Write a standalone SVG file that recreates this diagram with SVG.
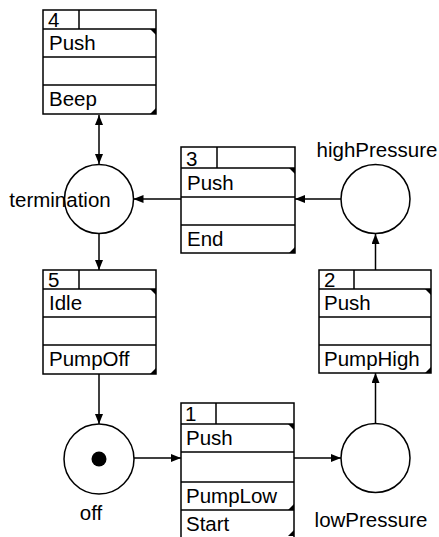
<svg xmlns="http://www.w3.org/2000/svg" width="439" height="537" viewBox="0 0 439 537">
<defs>
<style>
.box{fill:#fff;stroke:#000;stroke-width:1.5}
.ln{stroke:#000;stroke-width:1.5;fill:none}
.pl{fill:#fff;stroke:#000;stroke-width:1.5}
.t{font-family:"Liberation Sans",Arial,sans-serif;font-size:20.5px;fill:#000}
.lb{font-family:"Liberation Sans",Arial,sans-serif;font-size:20.5px;fill:#000;text-anchor:middle}
.c{fill:#000}
.e{stroke:#000;stroke-width:1.5;fill:none}
</style>
<marker id="ah" viewBox="0 0 10 8" refX="10" refY="4" markerWidth="10" markerHeight="8" markerUnits="userSpaceOnUse" orient="auto-start-reverse">
<path d="M0,0 L10,4 L0,8 Z" fill="#000"/>
</marker>
</defs>

<g id="connectors">
<line class="e" x1="99" y1="115" x2="99" y2="164" marker-start="url(#ah)" marker-end="url(#ah)"/>
<line class="e" x1="181" y1="199" x2="133.5" y2="199" marker-end="url(#ah)"/>
<line class="e" x1="341" y1="199" x2="295" y2="199" marker-end="url(#ah)"/>
<line class="e" x1="375.5" y1="270" x2="375.5" y2="234" marker-end="url(#ah)"/>
<line class="e" x1="375.5" y1="423" x2="375.5" y2="373" marker-end="url(#ah)"/>
<line class="e" x1="294" y1="458" x2="341" y2="458" marker-end="url(#ah)"/>
<line class="e" x1="134" y1="458" x2="181" y2="458" marker-end="url(#ah)"/>
<line class="e" x1="99" y1="234" x2="99" y2="270" marker-end="url(#ah)"/>
<line class="e" x1="99" y1="374" x2="99" y2="424" marker-end="url(#ah)"/>
</g>

<g id="t4">
<rect class="box" x="43" y="10" width="113" height="104"/>
<path class="ln" d="M43,29H156M43,57H156M43,85H156M79,10V29"/>
<path class="c" d="M150,29H156V35Z"/>
<path class="c" d="M156,108V114H150Z"/>
<text class="t" x="48" y="27">4</text>
<text class="t" x="49" y="50">Push</text>
<text class="t" x="49" y="106">Beep</text>
</g>

<g id="t3">
<rect class="box" x="181" y="147" width="114" height="106"/>
<path class="ln" d="M181,168H295M181,197H295M181,225H295M217,147V168"/>
<path class="c" d="M289,168H295V174Z"/>
<path class="c" d="M295,247V253H289Z"/>
<text class="t" x="186" y="166">3</text>
<text class="t" x="187" y="190">Push</text>
<text class="t" x="187" y="246">End</text>
</g>

<g id="t5">
<rect class="box" x="43" y="270" width="113" height="104"/>
<path class="ln" d="M43,289H156M43,317H156M43,345H156M79,270V289"/>
<path class="c" d="M150,289H156V295Z"/>
<path class="c" d="M156,368V374H150Z"/>
<text class="t" x="48" y="287">5</text>
<text class="t" x="49" y="310">Idle</text>
<text class="t" x="49" y="366">PumpOff</text>
</g>

<g id="t2">
<rect class="box" x="319" y="270" width="112" height="103"/>
<path class="ln" d="M319,289H431M319,317H431M319,345H431M354,270V289"/>
<path class="c" d="M425,289H431V295Z"/>
<path class="c" d="M431,367V373H425Z"/>
<text class="t" x="324" y="287">2</text>
<text class="t" x="324" y="310">Push</text>
<text class="t" x="324" y="366">PumpHigh</text>
</g>

<g id="t1">
<rect class="box" x="181" y="403" width="113" height="136"/>
<path class="ln" d="M181,424H294M181,452H294M181,482H294M181,510H294M216,403V424"/>
<path class="c" d="M288,424H294V430Z"/>
<path class="c" d="M294,504V510H288Z"/>
<path class="c" d="M294,530V536H288Z"/>
<text class="t" x="185" y="421">1</text>
<text class="t" x="186" y="445">Push</text>
<text class="t" x="186" y="503">PumpLow</text>
<text class="t" x="186" y="531">Start</text>
</g>

<g id="termination">
<circle class="pl" cx="99" cy="199" r="34.5"/>
<text class="lb" x="60" y="207">termination</text>
</g>

<g id="highPressure">
<circle class="pl" cx="375.5" cy="199" r="34.5"/>
<text class="lb" x="377" y="157">highPressure</text>
</g>

<g id="lowPressure">
<circle class="pl" cx="375.5" cy="458" r="34.5"/>
<text class="lb" x="371" y="527">lowPressure</text>
</g>

<g id="off">
<circle class="pl" cx="99" cy="459" r="35"/>
<circle class="c" cx="99" cy="459" r="7.5"/>
<text class="lb" x="91" y="520">off</text>
</g>
</svg>
